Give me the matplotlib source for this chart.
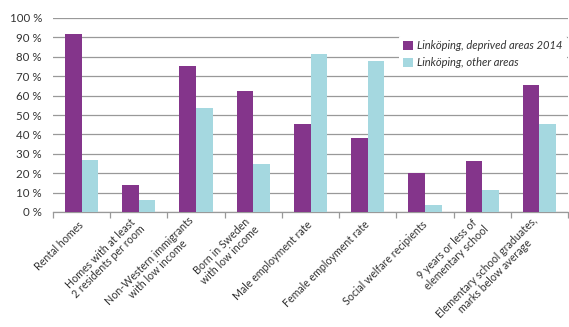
import matplotlib
matplotlib.use("Agg")
import matplotlib.pyplot as plt
import numpy as np

categories = ["Rental homes", "Homes with at least\n2 residents per room",
              "Non-Western immigrants\nwith low income", "Born in Sweden\nwith low income",
              "Male employment rate", "Female employment rate",
              "Social welfare recipients", "9 years or less of\nelementary school",
              "Elementary school graduates,\nmarks below average"]
deprived = [92, 14, 75.5, 62.5, 45.5, 38, 20, 26.5, 65.5]
other = [27, 6, 53.5, 24.5, 81.5, 78, 3.5, 11.5, 45.5]
series_names = ["Linköping, deprived areas 2014", "Linköping, other areas"]
yticks = list(range(0, 101, 10))

purple = "#84358B"
light = "#A5D8E0"

plt.rcParams['font.family'] = ['Lato', 'DejaVu Sans']
fig = plt.figure(figsize=(5.69, 3.27), dpi=100)
ax = fig.add_axes([53/569, 1-212/327, 515/569, 194/327])

x = np.arange(len(categories))
w = 0.29
ax.bar(x - w/2, deprived, w, color=purple, label=series_names[0], zorder=3)
ax.bar(x + w/2, other, w, color=light, label=series_names[1], zorder=3)

ax.set_xlim(-0.5, len(categories) - 0.5)
ax.set_ylim(0, 100)
ax.set_yticks(yticks)
ax.set_yticklabels([f"{t} %" for t in yticks], fontsize=8.3, color="#333333")
ax.yaxis.grid(True, color="#999999", linewidth=0.9, zorder=0)
ax.tick_params(axis='y', length=0, pad=8)

ax.set_xticks(x)
ax.set_xticklabels(categories, rotation=45, ha='right', va='center', rotation_mode='anchor',
                   fontsize=7.7, color="#333333", multialignment='center',
                   linespacing=1.1)
ax.set_xticks(np.arange(-0.5, len(categories), 1), minor=True)
ax.tick_params(axis='x', which='major', length=0, pad=8)
ax.tick_params(axis='x', which='minor', length=4, color="#999999", width=0.9)

for s in ["top", "right", "left"]:
    ax.spines[s].set_visible(False)
ax.spines["bottom"].set_color("#999999")
ax.spines["bottom"].set_linewidth(0.9)

leg = ax.legend(loc='upper left', bbox_to_anchor=((393-53)/515, (212-30)/194), frameon=True,
                facecolor='white', edgecolor='none', framealpha=1,
                prop={'style': 'italic', 'size': 8}, handlelength=0.9, handleheight=0.9,
                handletextpad=0.4, labelspacing=0.55, borderpad=0.4)
for t in leg.get_texts():
    t.set_color("#333333")

fig.savefig("out.png", dpi=100)
